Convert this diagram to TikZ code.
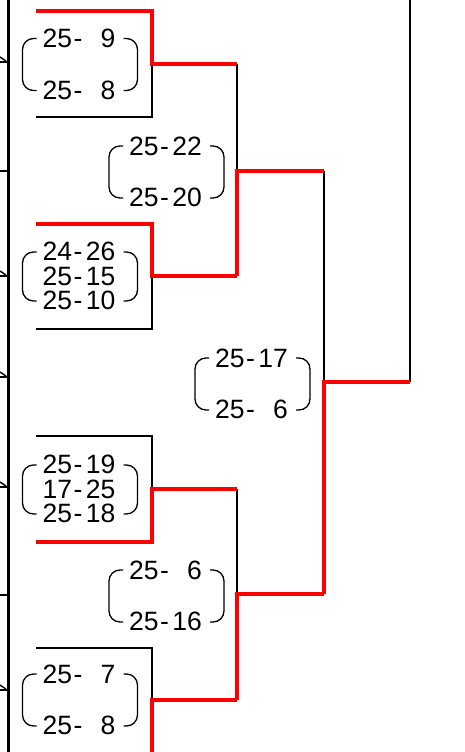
\documentclass[tikz,border=0pt]{standalone}
\usepackage{fontspec}
\setmainfont{Liberation Sans}
\newcommand\scfont{\fontsize{26.5}{24.5}\selectfont}
\newcommand\sline[2]{#1\kern1.5pt-\kern3.5pt#2}
\newcommand\pz{\hphantom{0}}
\newcommand\scorebrk[3]{%
  \draw[brkline] ({#1-57.5+14},{#2-#3}) -- ({#1-57.5},{#2-#3}) -- ({#1-57.5},{#2+#3}) -- ({#1-57.5+14},{#2+#3});
  \draw[brkline] ({#1+57.5-14},{#2-#3}) -- ({#1+57.5},{#2-#3}) -- ({#1+57.5},{#2+#3}) -- ({#1+57.5-14},{#2+#3});}
\tikzset{
  blk/.style={line width=2pt,black},
  win/.style={line width=4pt,red},
  brkline/.style={line width=1.3pt,rounded corners=11pt},
  score/.style={font=\scfont,align=center,inner sep=0pt},
  tickline/.style={line width=1.4pt},
}
\begin{document}
\begin{tikzpicture}[x=1pt,y=-1pt]
\useasboundingbox (0,0) rectangle (465,752);
\clip (0,0) rectangle (465,752);
% junction coordinates
\coordinate (m1t) at (36,11);  \coordinate (m1r) at (152,11);  \coordinate (m1c) at (152,64);  \coordinate (m1d) at (152,117); \coordinate (m1b) at (36,117);
\coordinate (m2t) at (36,224); \coordinate (m2r) at (152,224); \coordinate (m2c) at (152,276); \coordinate (m2d) at (152,329); \coordinate (m2b) at (36,329);
\coordinate (m3t) at (36,436); \coordinate (m3r) at (152,436); \coordinate (m3c) at (152,489); \coordinate (m3d) at (152,542); \coordinate (m3b) at (36,542);
\coordinate (m4t) at (36,648); \coordinate (m4r) at (152,648); \coordinate (m4c) at (152,700); \coordinate (m4d) at (152,760);
\coordinate (s1a) at (237,64);  \coordinate (s1b) at (237,276); \coordinate (s1c) at (237,171); \coordinate (s1o) at (324,171);
\coordinate (s2a) at (237,489); \coordinate (s2b) at (237,700); \coordinate (s2c) at (237,594); \coordinate (s2o) at (324,594);
\coordinate (fc) at (324,382); \coordinate (fo) at (410,382); \coordinate (ftop) at (410,-5);
% left border and ticks
\coordinate (lt) at (8,-5); \coordinate (lb) at (8,760);
\draw[line width=3pt] (lt) -- (lb);
\foreach \yy in {62,276,377,487,690}{
  \draw[tickline] (0,\yy) -- (7,\yy);
  \draw[tickline] (0,\yy-5) -- (6,\yy-1);
}
\foreach \yy in {171,595}{
  \draw[tickline] (0,\yy) -- (7,\yy);
}
% black losers' lines
\draw[blk] (m1c) -- (m1d) -- (m1b);
\draw[blk] (m2c) -- (m2d) -- (m2b);
\draw[blk] (m3t) -- (m3r) -- (m3c);
\draw[blk] (m4t) -- (m4r) -- (m4c);
\draw[blk] (s1a) -- (s1c);
\draw[blk] (s2a) -- (s2c);
\draw[blk] (s1o) -- (fc);
\draw[blk] (fo) -- (ftop);
% red winners' lines
\draw[win] (m1t) -- (m1r) -- (m1c) -- (s1a);
\draw[win] (m2t) -- (m2r) -- (m2c) -- (s1b);
\draw[win] (s1b) -- (s1c) -- (s1o);
\draw[win] (m3b) -- (m3d) -- (m3c) -- (s2a);
\draw[win] (m4d) -- (m4c) -- (s2b);
\draw[win] (s2b) -- (s2c) -- (s2o);
\draw[win] (s2o) -- (fc) -- (fo);
% scores
\node[score] (sc1) at (79,64.5) {\sline{25}{\pz9}\\[27pt]\sline{25}{\pz8}};
\scorebrk{80}{64.5}{26}
\node[score] (sc2) at (79,276) {\sline{24}{26}\\\sline{25}{15}\\\sline{25}{10}};
\scorebrk{80}{276.5}{24.5}
\node[score] (sc3) at (79,489) {\sline{25}{19}\\\sline{17}{25}\\\sline{25}{18}};
\scorebrk{80}{489.5}{24.5}
\node[score] (sc4) at (79,700) {\sline{25}{\pz7}\\[27pt]\sline{25}{\pz8}};
\scorebrk{80}{700}{26}
\node[score] (sc5) at (165.5,172) {\sline{25}{22}\\[27pt]\sline{25}{20}};
\scorebrk{166.5}{172}{26}
\node[score] (sc6) at (165.5,596) {\sline{25}{\pz6}\\[27pt]\sline{25}{16}};
\scorebrk{166.5}{596}{26}
\node[score] (sc7) at (251.5,384) {\sline{25}{17}\\[27pt]\sline{25}{\pz6}};
\scorebrk{252.5}{384}{26}
\end{tikzpicture}
\end{document}
